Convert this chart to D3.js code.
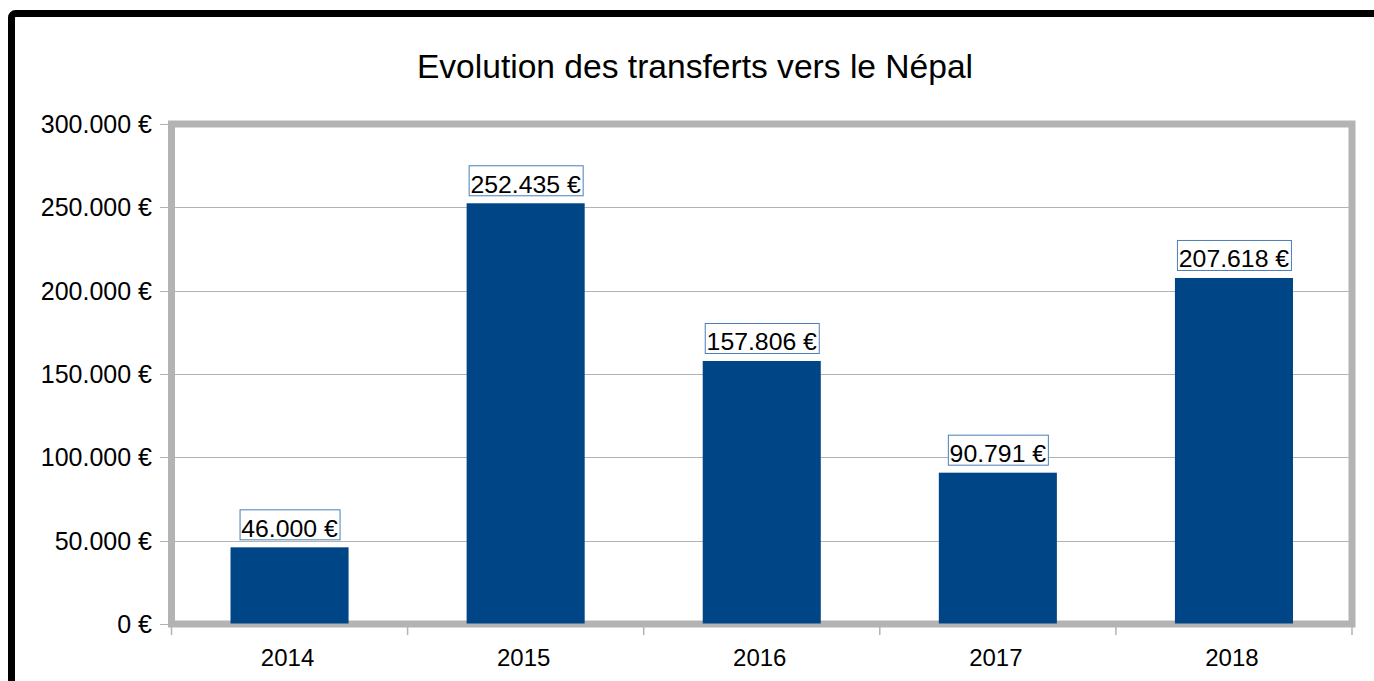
<!DOCTYPE html>
<html>
<head>
<meta charset="utf-8">
<script src="https://cdn.jsdelivr.net/npm/d3@7"></script>
<style>
html,body{margin:0;padding:0;background:#fff;overflow:hidden;}
text{font-family:"Liberation Sans",Arial,sans-serif;fill:#000;}
</style>
</head>
<body>
<svg id="chart" width="1374" height="681"></svg>
<script>
const title = "Evolution des transferts vers le Népal";
const categories = ["2014","2015","2016","2017","2018"];
const values = [46000, 252435, 157806, 90791, 207618];
const valueLabels = ["46.000 €","252.435 €","157.806 €","90.791 €","207.618 €"];
const yTicks = [0, 50000, 100000, 150000, 200000, 250000, 300000];
const yTickLabels = ["0 €","50.000 €","100.000 €","150.000 €","200.000 €","250.000 €","300.000 €"];

const svg = d3.select("#chart");
const pL = 171.5, pR = 1352, pT = 124, pB = 624;

// outer black frame
svg.append("rect").attr("x",11.5).attr("y",13.5).attr("width",1500).attr("height",800)
  .attr("rx",4).attr("fill","#fff").attr("stroke","#000").attr("stroke-width",7);

svg.append("text").attr("x",695).attr("y",77.5).attr("text-anchor","middle")
  .style("font-size","33.6px").text(title);

const x = d3.scaleBand().domain(categories).range([pL,pR]).paddingInner(0).paddingOuter(0);
const y = d3.scaleLinear().domain([0,300000]).range([pB,pT]);

// gridlines
svg.append("g").selectAll("line").data(yTicks).join("line")
  .attr("x1",160).attr("x2",pR).attr("y1",d=>Math.round(y(d))+0.5).attr("y2",d=>Math.round(y(d))+0.5)
  .attr("stroke","#b3b3b3").attr("stroke-width",1);

// frame
svg.append("rect").attr("x",pL).attr("y",pT).attr("width",pR-pL).attr("height",pB-pT)
  .attr("fill","none").attr("stroke","#b3b3b3").attr("stroke-width",7);

// x ticks
const bounds = categories.map(c=>x(c)).concat([pR]);
svg.append("g").selectAll("line").data(bounds).join("line")
  .attr("x1",d=>d).attr("x2",d=>d).attr("y1",pB).attr("y2",pB+11)
  .attr("stroke","#b3b3b3").attr("stroke-width",1.5);

// bars
const bw = x.bandwidth()*0.5;
svg.append("g").selectAll("rect").data(values).join("rect")
  .attr("x",(d,i)=>x(categories[i])+x.bandwidth()/2-bw/2)
  .attr("width",bw)
  .attr("y",d=>y(d)).attr("height",d=>y(0)-y(d)-0.5)
  .attr("fill","#004586");

// y labels
svg.append("g").selectAll("text").data(yTicks).join("text")
  .attr("x",152).attr("y",d=>y(d)).attr("dy","0.36em").attr("text-anchor","end")
  .style("font-size","25px").text((d,i)=>yTickLabels[i]);

// x labels
svg.append("g").selectAll("text").data(categories).join("text")
  .attr("x",d=>x(d)+x.bandwidth()/2-2).attr("y",666).attr("text-anchor","middle")
  .style("font-size","24px").text(d=>d);

// data labels
const lg = svg.append("g").selectAll("g").data(values).join("g")
  .attr("transform",(d,i)=>`translate(${x(categories[i])+x.bandwidth()/2},${y(d)-10.5})`);
lg.each(function(d,i){
  const g = d3.select(this);
  const r = g.append("rect");
  const t = g.append("text").attr("text-anchor","middle").style("font-size","24.8px").text(valueLabels[i]);
  const b = t.node().getBBox();
  r.attr("x",Math.round(b.x-2)+0.5).attr("y",-27).attr("width",Math.round(b.width+3)).attr("height",30)
   .attr("fill","#fff").attr("stroke","#4a7ebb").attr("stroke-width",1);
});
</script>
</body>
</html>
